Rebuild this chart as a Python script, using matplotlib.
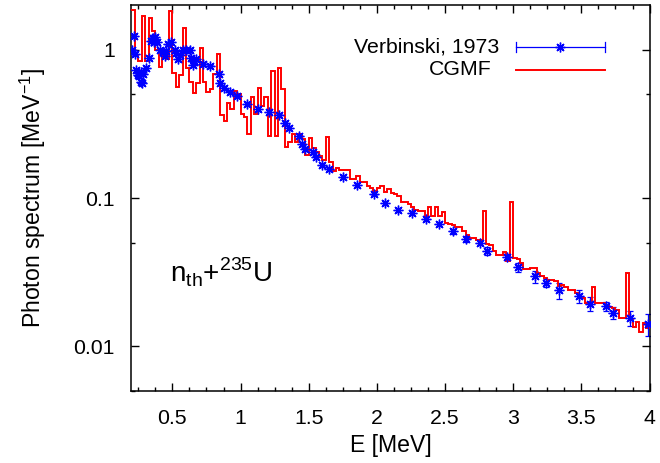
import numpy as np
import matplotlib
matplotlib.use("Agg")
import matplotlib.pyplot as plt
from matplotlib.ticker import FixedLocator, NullFormatter

plt.rcParams['font.family'] = ['Liberation Sans', 'DejaVu Sans']

# CGMF photon spectrum, 0.025 MeV bins starting at 0.2 MeV
bin_start = 0.2
bin_width = 0.025
cgmf = [1.85, 0.91, 0.84, 1.68, 0.84, 1.64, 1.34, 1.00, 0.76, 0.93,
        0.86, 1.83, 0.70, 0.56, 0.68, 1.40, 0.75, 0.61, 0.51, 0.60,
        1.03, 0.61, 0.52, 0.54, 0.69, 0.94, 0.36, 0.33, 0.44, 0.40,
        0.53, 0.50, 0.37, 0.35, 0.27, 0.48, 0.37, 0.55, 0.42, 0.48,
        0.26, 0.72, 0.26, 0.75, 0.54, 0.22, 0.24, 0.27, 0.24, 0.27,
        0.25, 0.194, 0.253, 0.218, 0.205, 0.192, 0.179, 0.256, 0.174, 0.151,
        0.159, 0.154, 0.155, 0.154, 0.135, 0.135, 0.140, 0.128, 0.128, 0.120,
        0.116, 0.112, 0.117, 0.120, 0.110, 0.115, 0.108, 0.106, 0.103, 0.094,
        0.094, 0.091, 0.087, 0.083, 0.082, 0.082, 0.075, 0.087, 0.076, 0.087,
        0.076, 0.080, 0.068, 0.067, 0.066, 0.064, 0.064, 0.060, 0.056, 0.054,
        0.054, 0.0525, 0.0525, 0.082, 0.049, 0.048, 0.044, 0.041, 0.041, 0.043,
        0.0375, 0.094, 0.0394, 0.0385, 0.0366, 0.033, 0.033, 0.0335, 0.0335, 0.031,
        0.0296, 0.029, 0.0282, 0.0282, 0.0275, 0.0256, 0.026, 0.025, 0.024, 0.024,
        0.023, 0.0222, 0.0212, 0.0197, 0.020, 0.025, 0.0195, 0.0197, 0.0195, 0.019,
        0.0185, 0.018, 0.0175, 0.0155, 0.0155, 0.031, 0.0153, 0.0136, 0.0146, 0.0125,
        0.0143, 0.0132]

# Verbinski et al. (1973) measurement
verb_e = [0.204, 0.218, 0.226, 0.233, 0.248, 0.258, 0.267, 0.272, 0.277, 0.283,
          0.309, 0.326, 0.345, 0.355, 0.365, 0.374, 0.389, 0.407, 0.43, 0.446,
          0.455, 0.47, 0.492, 0.517, 0.53, 0.541, 0.553, 0.578, 0.603, 0.627,
          0.64, 0.651, 0.662, 0.675, 0.722, 0.773, 0.844, 0.846, 0.876, 0.924,
          0.973, 1.047, 1.125, 1.206, 1.279, 1.328, 1.352, 1.43, 1.448, 1.472,
          1.528, 1.553, 1.60, 1.65, 1.753, 1.855, 1.98, 2.059, 2.156, 2.256,
          2.357, 2.457, 2.555, 2.655, 2.755, 2.808, 2.955, 3.036, 3.158, 3.237,
          3.334, 3.483, 3.561, 3.684, 3.732, 3.86, 3.99]
verb_y = [1.00, 1.23, 0.93, 0.73, 0.67, 0.66, 0.71, 0.61, 0.60, 0.69,
          0.75, 0.88, 1.15, 1.20, 1.13, 1.21, 1.12, 1.00, 0.97, 0.91,
          0.98, 1.10, 1.13, 1.00, 0.95, 0.86, 0.92, 1.00, 1.00, 1.00,
          0.88, 0.79, 0.84, 0.86, 0.80, 0.77, 0.69, 0.60, 0.55, 0.52,
          0.49, 0.43, 0.40, 0.38, 0.36, 0.32, 0.295, 0.26, 0.23, 0.213,
          0.204, 0.189, 0.168, 0.156, 0.138, 0.123, 0.107, 0.0923, 0.0833, 0.079,
          0.0721, 0.0665, 0.0595, 0.053, 0.050, 0.044, 0.040, 0.0342, 0.0296, 0.0267,
          0.0238, 0.0217, 0.0194, 0.0186, 0.0169, 0.0155, 0.0141]
verb_err = [0.03, 0.037, 0.028, 0.022, 0.02, 0.02, 0.021, 0.018, 0.018, 0.021,
            0.022, 0.026, 0.035, 0.036, 0.034, 0.036, 0.034, 0.03, 0.029, 0.027,
            0.029, 0.033, 0.034, 0.03, 0.028, 0.026, 0.028, 0.03, 0.03, 0.03,
            0.026, 0.024, 0.025, 0.026, 0.024, 0.023, 0.021, 0.018, 0.016, 0.016,
            0.015, 0.013, 0.012, 0.011, 0.011, 0.01, 0.009, 0.008, 0.007, 0.006,
            0.006, 0.006, 0.005, 0.005, 0.004, 0.004, 0.003, 0.003, 0.0025, 0.0024,
            0.0022, 0.002, 0.002, 0.0027, 0.002, 0.0027, 0.002, 0.0024, 0.0027, 0.0016,
            0.0029, 0.0022, 0.0021, 0.0013, 0.0015, 0.0017, 0.0024]

edges = bin_start + bin_width * np.arange(len(cgmf) + 1)

fig = plt.figure(figsize=(6.6, 4.63), dpi=100)
ax = fig.add_axes([0.1992, 0.1555, 0.785, 0.8337])

ax.stairs(cgmf, edges, baseline=None, color='#ff0000', lw=1.4, zorder=3)
ax.errorbar(verb_e, verb_y, yerr=verb_err, fmt='none', ecolor='#0000ff',
            elinewidth=0.9, capsize=2.5, capthick=0.9, zorder=2)
ax.plot(verb_e, verb_y, ls='none', marker=(8, 2, 0), ms=7, mew=1.0,
        color='#0000ff', zorder=4)

ax.set_yscale('log')
ax.set_xlim(0.2, 4.0)
ax.set_ylim(0.005, 2.0)

ax.xaxis.set_major_locator(FixedLocator([0.5, 1, 1.5, 2, 2.5, 3, 3.5, 4]))
ax.xaxis.set_minor_locator(FixedLocator(np.arange(0.25, 4.0, 0.125)))
ax.set_xticklabels(['0.5', '1', '1.5', '2', '2.5', '3', '3.5', '4'])
ax.yaxis.set_major_locator(FixedLocator([0.01, 0.1, 1]))
ax.yaxis.set_minor_locator(FixedLocator([0.005, 0.05, 0.5]))
ax.yaxis.set_minor_formatter(NullFormatter())
ax.set_yticklabels(['0.01', '0.1', '1'])

ax.tick_params(which='both', direction='in', top=True, right=True,
               labelsize=15.3, width=1.0)
ax.tick_params(axis='x', which='major', pad=13)
ax.tick_params(axis='y', which='major', pad=12)
ax.tick_params(which='major', length=6)
ax.tick_params(which='minor', length=3)
for s in ax.spines.values():
    s.set_linewidth(1.1)

ax.set_xlabel('E [MeV]', fontsize=16.6, labelpad=4)
ax.set_ylabel('Photon spectrum [MeV$^{\\mathregular{-1}}$]', fontsize=16.6, labelpad=18)

# legend, drawn gnuplot style
tr = ax.transAxes
ax.text(0.709, 0.891, 'Verbinski, 1973', transform=tr, ha='right', va='center', fontsize=15.3)
ax.plot([0.742, 0.914], [0.891, 0.891], transform=tr, color='#0000ff', lw=0.9)
ax.plot([0.742, 0.742], [0.879, 0.903], transform=tr, color='#0000ff', lw=0.9)
ax.plot([0.914, 0.914], [0.879, 0.903], transform=tr, color='#0000ff', lw=0.9)
ax.plot([0.828], [0.891], transform=tr, ls='none', marker=(8, 2, 0), ms=7, mew=1.0, color='#0000ff')
ax.text(0.696, 0.832, 'CGMF', transform=tr, ha='right', va='center', fontsize=15.3)
ax.plot([0.742, 0.914], [0.832, 0.832], transform=tr, color='#ff0000', lw=1.4)

ax.text(0.074, 0.308, 'n$_{\\mathregular{th}}$+$^{\\mathregular{235}}$U', transform=tr,
        ha='left', va='center', fontsize=20)

fig.savefig('out.png', dpi=100)
